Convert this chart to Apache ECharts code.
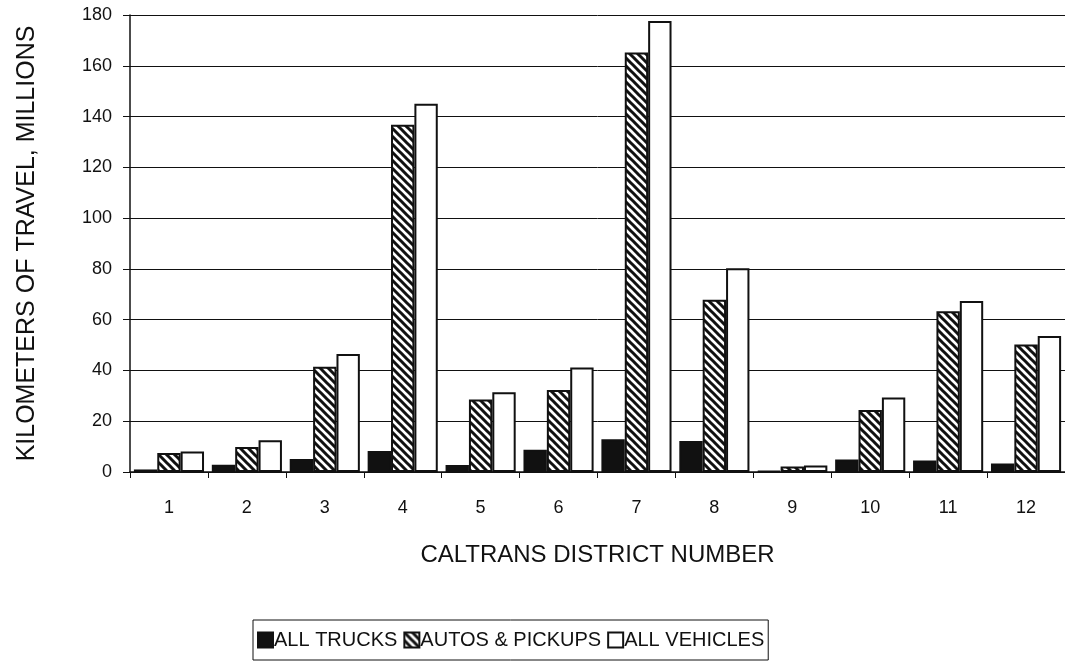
<!DOCTYPE html>
<html>
<head>
<meta charset="utf-8">
<script src="https://cdn.jsdelivr.net/npm/echarts@6/dist/echarts.min.js"></script>
<style>
    html, body { margin: 0; padding: 0; background: #fff; }
    #chart { width: 1065px; height: 667px; }
</style>
</head>
<body>
<div id="chart"></div>
<script>
// districts and travel (millions of km)
const districts = ['1', '2', '3', '4', '5', '6', '7', '8', '9', '10', '11', '12'];
const allTrucks = [1.0, 2.9, 5.1, 8.3, 2.8, 8.8, 12.9, 12.2, 0.4, 4.9, 4.5, 3.3];
const autosPickups = [7.5, 9.8, 41.5, 136.8, 28.6, 32.3, 165.2, 67.8, 2.2, 24.4, 63.3, 50.2];
const allVehicles = [8.1, 12.5, 46.5, 145.0, 31.4, 41.2, 177.6, 80.3, 2.6, 29.3, 67.4, 53.6];
const yTicks = [0, 20, 40, 60, 80, 100, 120, 140, 160, 180];

// diagonal hatch like the scanned print
function makeHatch() {
    const c = document.createElement('canvas');
    c.width = 8;
    c.height = 8;
    const ctx = c.getContext('2d');
    ctx.fillStyle = '#fff';
    ctx.fillRect(0, 0, 8, 8);
    ctx.strokeStyle = '#111';
    ctx.lineWidth = 3;
    ctx.beginPath();
    ctx.moveTo(-2, -2); ctx.lineTo(10, 10);
    ctx.moveTo(-10, -2); ctx.lineTo(2, 10);
    ctx.moveTo(6, -2); ctx.lineTo(18, 10);
    ctx.stroke();
    return c;
}

const font = '"Liberation Sans", Arial, sans-serif';
const ink = '#111';
const chart = echarts.init(document.getElementById('chart'));

const border = { borderColor: ink, borderWidth: 2 };

chart.setOption({
    animation: false,
    textStyle: { fontFamily: font, color: ink },
    grid: { left: 130, right: -2, top: 15, bottom: 195 },
    legend: {
        bottom: 7,
        left: 253,
        itemWidth: 15,
        itemHeight: 15,
        itemGap: 6,
        padding: [10, 4, 10, 4],
        borderColor: ink,
        borderWidth: 1,
        borderRadius: 0,
        icon: 'rect',
        textStyle: { fontFamily: font, fontSize: 20, color: ink, padding: [0, 0, 0, -4] },
        data: ['ALL TRUCKS', 'AUTOS & PICKUPS', 'ALL VEHICLES']
    },
    xAxis: {
        type: 'category',
        data: districts,
        name: 'CALTRANS DISTRICT NUMBER',
        nameLocation: 'middle',
        nameGap: 71,
        nameTextStyle: { fontSize: 24, color: ink },
        axisLine: { lineStyle: { color: ink, width: 1.5 } },
        axisTick: { show: true, length: 6, lineStyle: { color: ink } },
        axisLabel: { fontSize: 18, color: ink, margin: 27 }
    },
    yAxis: {
        type: 'value',
        min: 0,
        max: 180,
        interval: 20,
        name: 'KILOMETERS OF TRAVEL, MILLIONS',
        nameLocation: 'middle',
        nameGap: 90,
        nameTextStyle: { fontSize: 25, color: ink },
        axisLine: { show: true, lineStyle: { color: ink, width: 1.5 } },
        axisTick: { show: true, length: 7, lineStyle: { color: ink } },
        axisLabel: {
            fontSize: 18,
            color: ink,
            margin: 18,
            formatter: v => (yTicks.includes(v) ? String(v) : '')
        },
        splitLine: { show: true, lineStyle: { color: ink, width: 1 } }
    },
    series: [
        {
            name: 'ALL TRUCKS',
            type: 'bar',
            data: allTrucks,
            barGap: '0%',
            barCategoryGap: '10%',
            itemStyle: Object.assign({ color: ink }, border)
        },
        {
            name: 'AUTOS & PICKUPS',
            type: 'bar',
            data: autosPickups,
            itemStyle: Object.assign({ color: { image: makeHatch(), repeat: 'repeat' } }, border)
        },
        {
            name: 'ALL VEHICLES',
            type: 'bar',
            data: allVehicles,
            itemStyle: Object.assign({ color: '#fff' }, border)
        }
    ]
});
</script>
</body>
</html>
